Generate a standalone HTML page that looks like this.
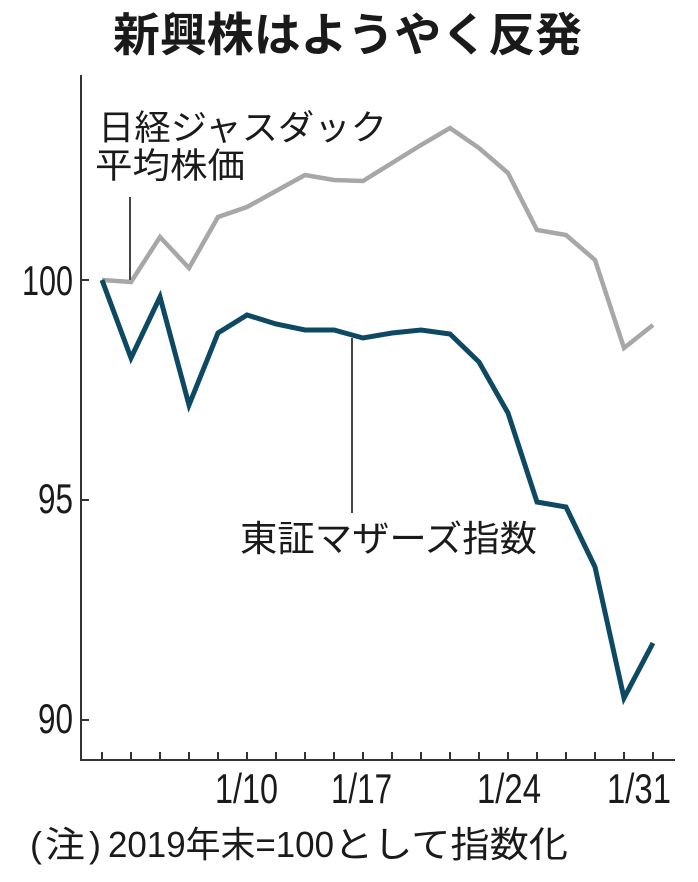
<!DOCTYPE html>
<html><head><meta charset="utf-8">
<style>
html,body{margin:0;padding:0;background:#fff;}
svg{display:block;}
.lat{font-family:"Liberation Sans","Noto Sans CJK JP",sans-serif;fill:#1a1a1a;}
.jp{font-family:"Liberation Sans","Noto Sans CJK JP",sans-serif;fill:#1a1a1a;}
</style></head>
<body>
<svg width="698" height="882" viewBox="0 0 698 882" xmlns="http://www.w3.org/2000/svg">
<rect width="698" height="882" fill="#fff"/>
<!-- title -->
<text class="jp" x="113" y="51" font-size="46" font-weight="bold" textLength="469" lengthAdjust="spacingAndGlyphs">新興株はようやく反発</text>

<!-- axes -->
<line x1="81" y1="75" x2="81" y2="761" stroke="#333" stroke-width="2"/>
<line x1="80" y1="760" x2="675" y2="760" stroke="#333" stroke-width="2"/>
<!-- y ticks -->
<g stroke="#333" stroke-width="2">
<line x1="81" y1="280" x2="89" y2="280"/>
<line x1="81" y1="500" x2="89" y2="500"/>
<line x1="81" y1="720" x2="89" y2="720"/>
</g>
<!-- x ticks -->
<g stroke="#333" stroke-width="2">
<line x1="102" y1="752" x2="102" y2="760"/>
<line x1="131" y1="752" x2="131" y2="760"/>
<line x1="160" y1="752" x2="160" y2="760"/>
<line x1="189" y1="752" x2="189" y2="760"/>
<line x1="218" y1="752" x2="218" y2="760"/>
<line x1="247" y1="752" x2="247" y2="760"/>
<line x1="276" y1="752" x2="276" y2="760"/>
<line x1="305" y1="752" x2="305" y2="760"/>
<line x1="334" y1="752" x2="334" y2="760"/>
<line x1="363" y1="752" x2="363" y2="760"/>
<line x1="392" y1="752" x2="392" y2="760"/>
<line x1="421" y1="752" x2="421" y2="760"/>
<line x1="450" y1="752" x2="450" y2="760"/>
<line x1="479" y1="752" x2="479" y2="760"/>
<line x1="508" y1="752" x2="508" y2="760"/>
<line x1="537" y1="752" x2="537" y2="760"/>
<line x1="566" y1="752" x2="566" y2="760"/>
<line x1="595" y1="752" x2="595" y2="760"/>
<line x1="624" y1="752" x2="624" y2="760"/>
<line x1="653" y1="752" x2="653" y2="760"/>
</g>

<!-- y labels -->
<text class="lat" x="22" y="295" font-size="42" textLength="51" lengthAdjust="spacingAndGlyphs">100</text>
<text class="lat" x="38" y="513" font-size="42" textLength="35" lengthAdjust="spacingAndGlyphs">95</text>
<text class="lat" x="38" y="733" font-size="42" textLength="35" lengthAdjust="spacingAndGlyphs">90</text>

<!-- x labels -->
<text class="lat" x="215" y="803" font-size="42" textLength="63" lengthAdjust="spacingAndGlyphs">1/10</text>
<text class="lat" x="331" y="803" font-size="42" textLength="61" lengthAdjust="spacingAndGlyphs">1/17</text>
<text class="lat" x="477" y="803" font-size="42" textLength="64" lengthAdjust="spacingAndGlyphs">1/24</text>
<text class="lat" x="607" y="803" font-size="42" textLength="64" lengthAdjust="spacingAndGlyphs">1/31</text>

<!-- series: gray (JASDAQ) -->
<polyline fill="none" stroke="#a7a7a9" stroke-width="4.5" stroke-linejoin="miter" stroke-miterlimit="6"
points="102,280 131,282 160,237 189,268 218,217 247,207 276,191 305,175 334,180 363,181 392,163 421,145 450,128 479,148 508,173 537,230 566,235 595,260 624,348 653,325"/>
<!-- series: blue (Mothers) -->
<polyline fill="none" stroke="#0e4964" stroke-width="5" stroke-linejoin="miter" stroke-miterlimit="6"
points="102,280 131,358 160,297 189,405 218,333 247,315 276,324 305,330 334,330 363,338 392,333 421,330 450,334 479,362 508,413 537,502 566,507 595,567 624,698 653,643"/>

<!-- callout lines -->
<line x1="130" y1="197" x2="130" y2="280" stroke="#444" stroke-width="2"/>
<line x1="352" y1="338" x2="352" y2="513" stroke="#444" stroke-width="2"/>

<!-- series labels -->
<text class="jp" x="98" y="140" font-size="35" textLength="289" lengthAdjust="spacingAndGlyphs">日経ジャスダック</text>
<text class="jp" x="95" y="178" font-size="35" textLength="150" lengthAdjust="spacingAndGlyphs">平均株価</text>
<text class="jp" x="240" y="551" font-size="36" textLength="297" lengthAdjust="spacingAndGlyphs">東証マザーズ指数</text>

<!-- note -->
<text class="jp" x="30" y="857" font-size="36">(</text>
<text class="jp" x="45" y="857" font-size="36" textLength="40" lengthAdjust="spacingAndGlyphs">注</text>
<text class="jp" x="89" y="857" font-size="36">)</text>
<text class="jp" x="108" y="857" font-size="36" textLength="226" lengthAdjust="spacingAndGlyphs">2019年末=100</text>
<text class="jp" x="334" y="857" font-size="36" textLength="234" lengthAdjust="spacingAndGlyphs">として指数化</text>
</svg>
</body></html>
